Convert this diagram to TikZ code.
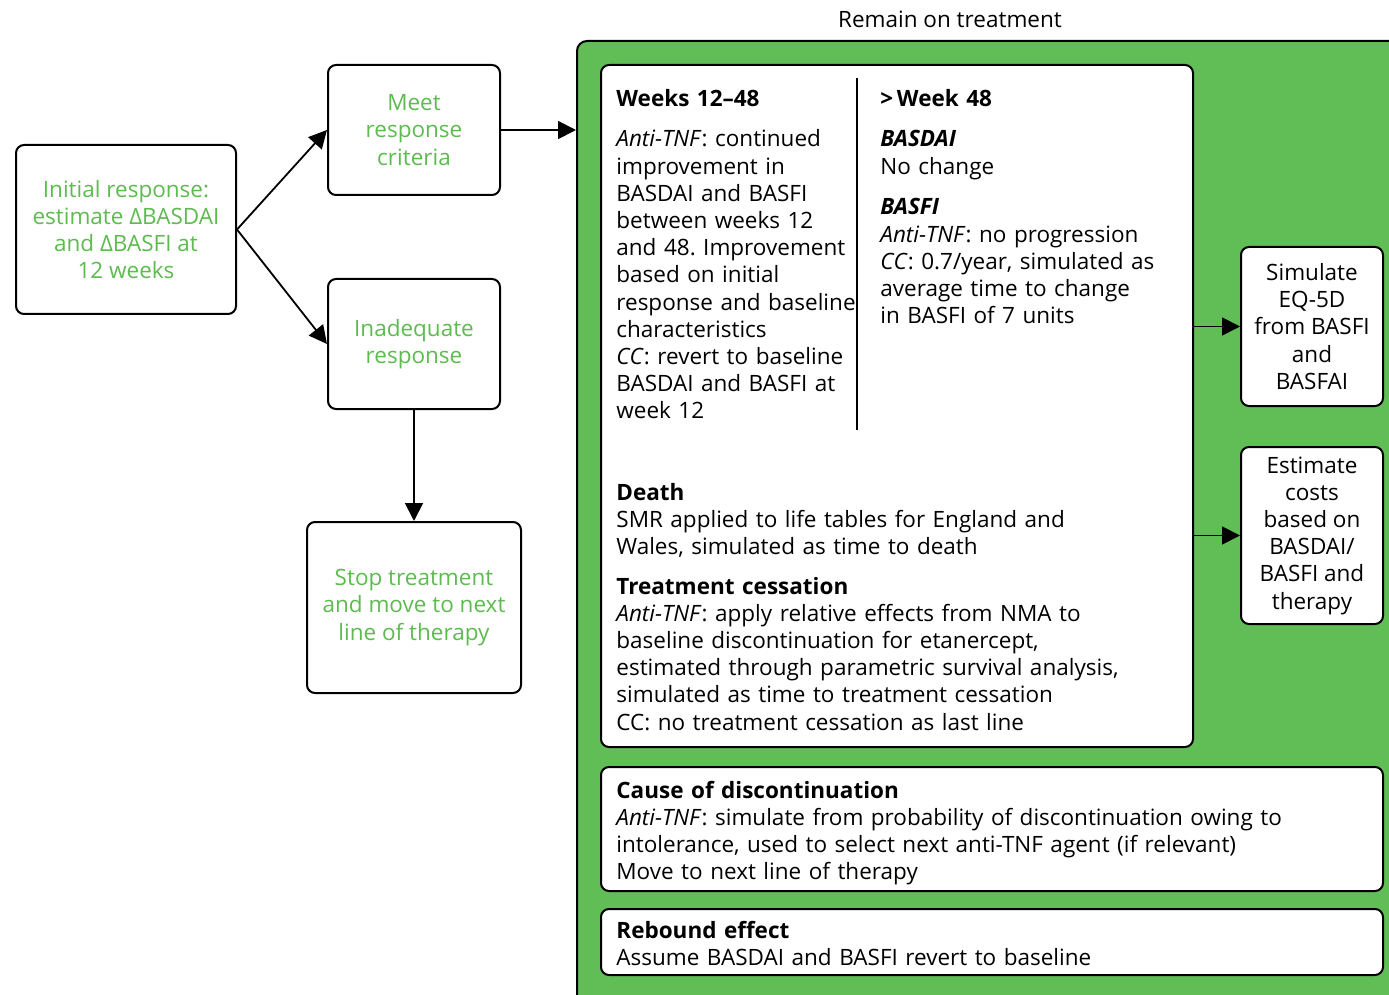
\documentclass[tikz,border=0pt]{standalone}
\usepackage{fontspec}
\setmainfont{Open Sans}
\usetikzlibrary{arrows.meta}
\definecolor{grn}{RGB}{97,189,86}
\definecolor{gtxt}{RGB}{93,187,80}
\frenchspacing
\begin{document}
\begin{tikzpicture}[x=0.5pt,y=-0.5pt,
  font=\fontsize{11.25}{13.6}\selectfont,
  box/.style={draw=black, line width=1pt, rounded corners=4pt, fill=white, inner sep=0pt},
  gtext/.style={text=gtxt, align=center},
  btext/.style={text=black, align=center},
  para/.style={anchor=base west, inner sep=0pt, align=left, text width=370pt},
  arr/.style={-{Triangle[length=9pt,width=9pt]}, line width=0.9pt}]
\useasboundingbox (0,0) rectangle (1389,995);
% green container
\node[draw=black, line width=1pt, fill=grn, rounded corners=5pt, inner sep=0pt,
      minimum width=421.5pt, minimum height=489.5pt] (green) at (998.5,530.5) {};
\node[inner sep=0pt] (remain) at (950,19) {Remain on treatment};
% left flow
\node[box, gtext, minimum width=110pt, minimum height=84.5pt] (init) at (126,229.5)
  {Initial response:\\ estimate ΔBASDAI\\ and ΔBASFI at\\ 12 weeks};
\node[box, gtext, minimum width=86pt, minimum height=65pt] (meet) at (414,130)
  {Meet\\ response\\ criteria};
\node[box, gtext, minimum width=86pt, minimum height=65pt] (inad) at (414,344)
  {Inadequate\\ response};
\node[box, gtext, minimum width=107pt, minimum height=85.5pt] (stop) at (414,607.5)
  {Stop treatment\\ and move to next\\ line of therapy};
\draw[arr] (init.east) -- (meet.west);
\draw[arr] (init.east) -- (inad.west);
\draw[arr] (inad.south) -- (stop.north);
\draw[arr] (meet.east) -- (meet.east -| green.west);
% main white box
\node[box, minimum width=296pt, minimum height=341pt] (main) at (897,406) {};
\draw[line width=0.9pt] (857,78) -- (857,430);
\node[para] (wk1) at (616,107) {\textbf{Weeks 12–48}};
\node[para] (wk1t) at (616,147) {\textit{Anti-TNF}: continued\\ improvement in\\ BASDAI and BASFI\\ between weeks 12\\ and 48. Improvement\\ based on initial\\ response and baseline\\ characteristics\\ \textit{CC}: revert to baseline\\ BASDAI and BASFI at\\ week 12};
\node[para] (wk2) at (880,107) {\textbf{>\,Week 48}};
\node[para] (basdai) at (880,147) {\textbf{\textit{BASDAI}}\\ No change};
\node[para] (basfi) at (880,215) {\textbf{\textit{BASFI}}\\ \textit{Anti-TNF}: no progression\\ \textit{CC}: 0.7/year, simulated as\\ average time to change\\ in BASFI of 7 units};
\node[para] (death) at (616,500) {\textbf{Death}\\ SMR applied to life tables for England and\\ Wales, simulated as time to death};
\node[para] (cess) at (616,594) {\textbf{Treatment cessation}\\ \textit{Anti-TNF}: apply relative effects from NMA to\\ baseline discontinuation for etanercept,\\ estimated through parametric survival analysis,\\ simulated as time to treatment cessation\\ CC: no treatment cessation as last line};
% right boxes
\node[box, btext, minimum width=71pt, minimum height=79.5pt] (sim) at (1312,326.5)
  {Simulate\\ EQ-5D\\ from BASFI\\ and\\ BASFAI};
\node[box, btext, minimum width=71pt, minimum height=88.5pt] (est) at (1312,535.5)
  {Estimate\\ costs\\ based on\\ BASDAI/\\ BASFI and\\ therapy};
\draw[arr] (sim.west -| main.east) -- (sim.west);
\draw[arr] (est.west -| main.east) -- (est.west);
% bottom boxes
\node[box, minimum width=391pt, minimum height=62pt] (cause) at (992,829) {};
\node[para] (causet) at (616,798) {\textbf{Cause of discontinuation}\\ \textit{Anti-TNF}: simulate from probability of discontinuation owing to\\ intolerance, used to select next anti-TNF agent (if relevant)\\ Move to next line of therapy};
\node[box, minimum width=391pt, minimum height=33pt] (reb) at (992,942) {};
\node[para] (rebt) at (616,938) {\textbf{Rebound effect}\\ Assume BASDAI and BASFI revert to baseline};
\end{tikzpicture}
\end{document}
